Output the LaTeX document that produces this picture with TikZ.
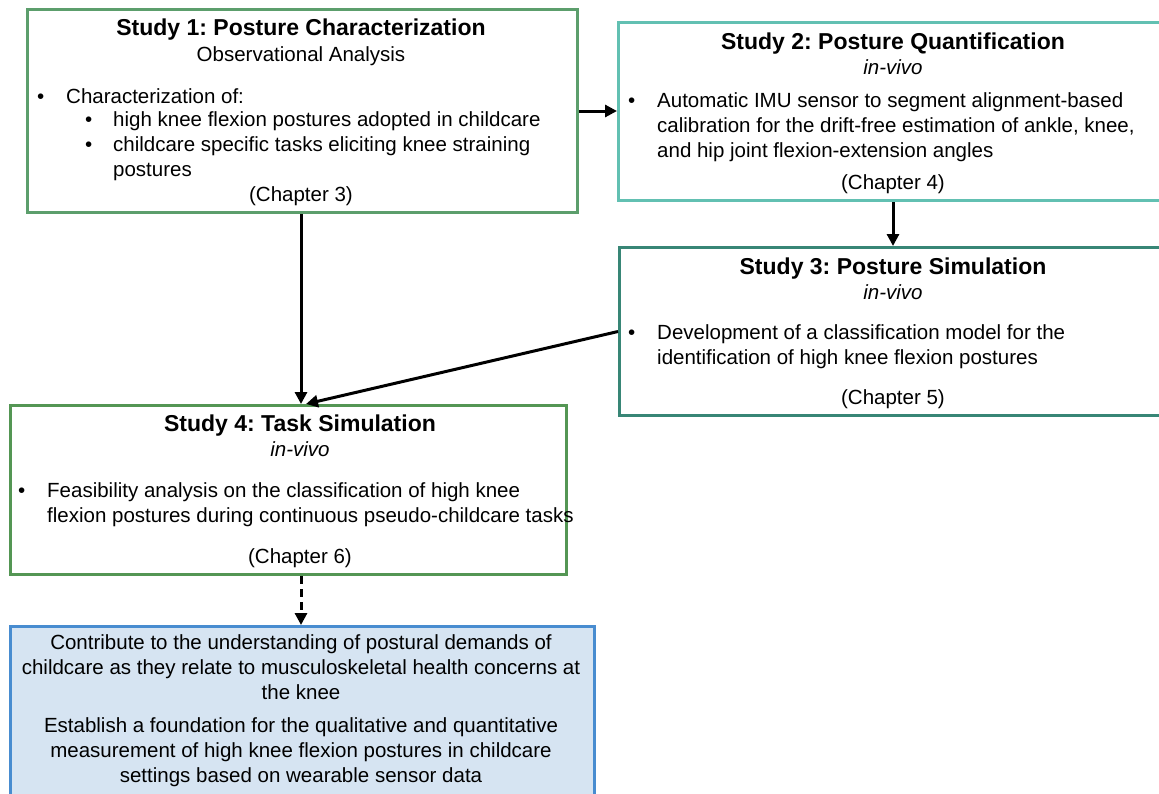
\documentclass[tikz,border=0pt]{standalone}
\usepackage{fontspec}
\setmainfont{Liberation Sans}
\usetikzlibrary{arrows.meta,calc}
\frenchspacing
\definecolor{greenA}{RGB}{92,158,108}
\definecolor{greenB}{RGB}{84,150,84}
\definecolor{tealA}{RGB}{98,192,178}
\definecolor{tealB}{RGB}{56,134,118}
\definecolor{blueB}{RGB}{72,140,208}
\definecolor{blueF}{RGB}{214,228,242}
\begin{document}
\begin{tikzpicture}[x=1pt,y=-1pt,
  box/.style={draw,line width=3pt,rectangle,anchor=north west,inner sep=0pt},
  ttl/.style={anchor=base,inner sep=0pt,font=\fontsize{23}{27}\selectfont\bfseries},
  txt/.style={anchor=base west,inner sep=0pt,font=\fontsize{20.5}{25}\selectfont},
  ctr/.style={anchor=base,inner sep=0pt,font=\fontsize{20.5}{25}\selectfont},
  sub/.style={anchor=base,inner sep=0pt,font=\fontsize{20.5}{25}\selectfont\itshape},
  conn/.style={line width=3pt,-{Triangle[length=12pt,width=12pt]}}]
\useasboundingbox (0,0) rectangle (1159,793);

% boxes
\node[box,draw=greenA,minimum width=550pt,minimum height=203pt] (b1) at (26,8) {};
\node[box,draw=tealA,minimum width=545pt,minimum height=178pt] (b2) at (617,21) {};
\node[box,draw=tealB,minimum width=544pt,minimum height=168pt] (b3) at (618,246) {};
\node[box,draw=greenB,minimum width=556pt,minimum height=169pt] (b4) at (9,404) {};
\node[box,draw=blueB,fill=blueF,minimum width=584pt,minimum height=180pt] (b5) at (9,625) {};

% Study 1
\node[ttl] (t1) at (301,35) {Study 1: Posture Characterization};
\node[ctr] (s1) at (301,61) {Observational Analysis};
\node[txt] (p1d) at (37,103) {•};
\node[txt] (p1) at (66,103) {Characterization of:};
\node[txt] (p1ad) at (85,126) {•};
\node[txt] (p1a) at (113,126) {high knee flexion postures adopted in childcare};
\node[txt] (p1bd) at (85,151) {•};
\node[txt] (p1b) at (113,151) {childcare specific tasks eliciting knee straining};
\node[txt] (p1c) at (113,176) {postures};
\node[ctr] (c1) at (301,201) {(Chapter 3)};

% Study 2
\node[ttl] (t2) at (893,49) {Study 2: Posture Quantification};
\node[sub] (s2) at (893,74) {in-vivo};
\node[txt] (p2d) at (628,107) {•};
\node[txt] (p2a) at (657,107) {Automatic IMU sensor to segment alignment-based};
\node[txt] (p2b) at (657,132) {calibration for the drift-free estimation of ankle, knee,};
\node[txt] (p2c) at (657,157) {and hip joint flexion-extension angles};
\node[ctr] (c2) at (893,189) {(Chapter 4)};

% Study 3
\node[ttl] (t3) at (893,274) {Study 3: Posture Simulation};
\node[sub] (s3) at (893,299) {in-vivo};
\node[txt] (p3d) at (628,339) {•};
\node[txt] (p3a) at (657,339) {Development of a classification model for the};
\node[txt] (p3b) at (657,364) {identification of high knee flexion postures};
\node[ctr] (c3) at (893,404) {(Chapter 5)};

% Study 4
\node[ttl] (t4) at (300,431) {Study 4: Task Simulation};
\node[sub] (s4) at (300,456) {in-vivo};
\node[txt] (p4d) at (18,497) {•};
\node[txt] (p4a) at (47,497) {Feasibility analysis on the classification of high knee};
\node[txt] (p4b) at (47,522) {flexion postures during continuous pseudo-childcare tasks};
\node[ctr] (c4) at (300,563) {(Chapter 6)};

% Outcomes
\node[ctr] (o1) at (301,649) {Contribute to the understanding of postural demands of};
\node[ctr] (o2) at (301,674) {childcare as they relate to musculoskeletal health concerns at};
\node[ctr] (o3) at (301,699) {the knee};
\node[ctr] (o4) at (301,732) {Establish a foundation for the qualitative and quantitative};
\node[ctr] (o5) at (301,757) {measurement of high knee flexion postures in childcare};
\node[ctr] (o6) at (301,782) {settings based on wearable sensor data};

% connectors
\coordinate (a1) at (b1.south -| c1);
\coordinate (a2) at (b4.north -| c1);
\coordinate (a3) at ($(a2)+(5,0)$);
\coordinate (a4) at (b4.south -| c1);
\coordinate (a5) at (b5.north -| c1);
\coordinate (a6) at (b2.south -| c2);
\coordinate (a7) at (b3.north -| c2);
\draw[conn] (b1.east) -- (b1.east -| b2.west);
\draw[conn] (a6) -- (a7);
\draw[conn] (a1) -- (a2);
\draw[conn] (b3.west) -- (a3);
\draw[conn,dash pattern=on 8pt off 5pt] (a4) -- (a5);
\end{tikzpicture}
\end{document}
